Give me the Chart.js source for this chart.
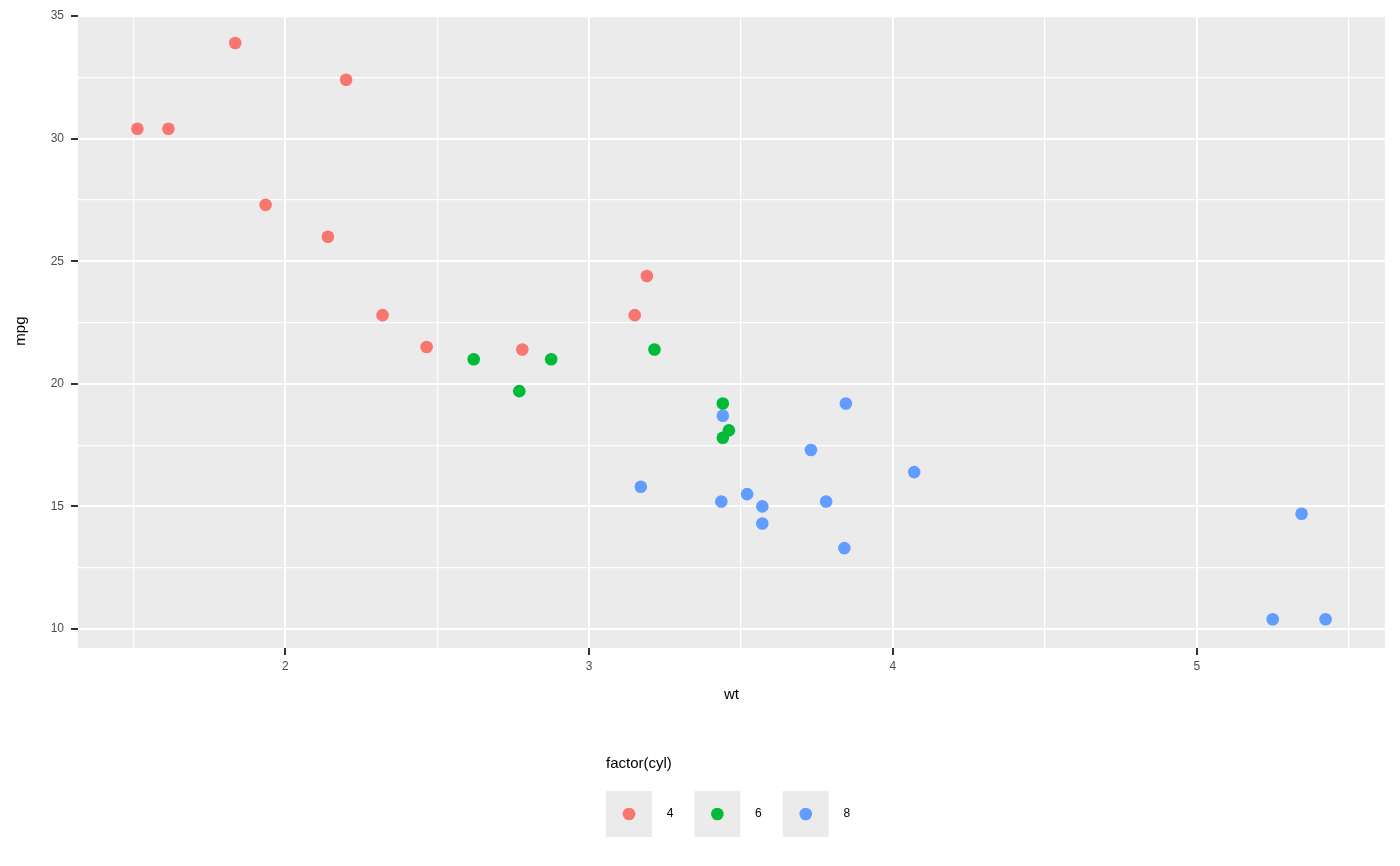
<!DOCTYPE html>
<html>
<head>
<meta charset="utf-8">
<script src="https://cdn.jsdelivr.net/npm/chart.js@4.4.1/dist/chart.umd.min.js"></script>
<style>
  html, body { margin: 0; padding: 0; background: #ffffff; }
  #wrap { width: 1400px; height: 866px; position: relative; }
</style>
</head>
<body>
<div id="wrap"><canvas id="c" width="1400" height="866"></canvas></div>
<script>
// ---- Data (mtcars: wt vs mpg by cylinder count) ----
const cylLevels = ['4', '6', '8'];
const wt4  = [2.320, 3.190, 3.150, 2.200, 1.615, 1.835, 2.465, 1.935, 2.140, 1.513, 2.780];
const mpg4 = [22.8, 24.4, 22.8, 32.4, 30.4, 33.9, 21.5, 27.3, 26.0, 30.4, 21.4];
const wt6  = [2.620, 2.875, 3.215, 3.460, 3.440, 3.440, 2.770];
const mpg6 = [21.0, 21.0, 21.4, 18.1, 19.2, 17.8, 19.7];
const wt8  = [3.440, 3.570, 4.070, 3.730, 3.780, 5.250, 5.424, 5.345, 3.520, 3.435, 3.840, 3.845, 3.170, 3.570];
const mpg8 = [18.7, 14.3, 16.4, 17.3, 15.2, 10.4, 10.4, 14.7, 15.5, 15.2, 13.3, 19.2, 15.8, 15.0];
const xTickValues = [1.5, 2, 2.5, 3, 3.5, 4, 4.5, 5, 5.5];
const yTickValues = [10, 12.5, 15, 17.5, 20, 22.5, 25, 27.5, 30, 32.5, 35];
const xLabel = 'wt';
const yLabel = 'mpg';
const legendTitle = 'factor(cyl)';

const colors = ['#F8766D', '#00BA38', '#619CFF'];
const FONT = "'Liberation Sans', Arial, Helvetica, sans-serif";
const PT_R = 6.3;

function pts(xs, ys) { return xs.map((x, i) => ({ x: x, y: ys[i] })); }
const seriesX = [wt4, wt6, wt8];
const seriesY = [mpg4, mpg6, mpg8];

const datasets = cylLevels.map((lv, i) => ({
  label: lv,
  data: pts(seriesX[i], seriesY[i]),
  backgroundColor: colors[i],
  borderWidth: 0,
  pointRadius: PT_R,
  pointHoverRadius: PT_R
}));

const panelBg = {
  id: 'panelBg',
  beforeDraw(chart) {
    const { ctx, chartArea: a } = chart;
    const top = Math.max(a.top, 17.3);
    ctx.save();
    ctx.fillStyle = '#EBEBEB';
    ctx.fillRect(a.left, top, a.right - a.left, a.bottom - top);
    ctx.restore();
  }
};

const ggLegend = {
  id: 'ggLegend',
  afterDraw(chart) {
    const ctx = chart.ctx;
    ctx.save();
    ctx.font = '15px ' + FONT;
    ctx.fillStyle = '#000000';
    ctx.textBaseline = 'middle';
    ctx.textAlign = 'left';
    ctx.fillText(legendTitle, 606, 764);
    ctx.font = '12px ' + FONT;
    let x = 606;
    const y = 791, s = 46;
    chart.data.datasets.forEach((ds) => {
      ctx.fillStyle = '#EBEBEB';
      ctx.fillRect(x, y, s, s);
      ctx.beginPath();
      ctx.arc(x + s / 2, y + s / 2, PT_R, 0, Math.PI * 2);
      ctx.fillStyle = ds.backgroundColor;
      ctx.fill();
      const lx = x + s + 14.7;
      ctx.fillStyle = '#000000';
      ctx.fillText(ds.label, lx, y + s / 2);
      x = lx + ctx.measureText(ds.label).width + 21;
    });
    ctx.restore();
  }
};

new Chart(document.getElementById('c'), {
  type: 'scatter',
  data: { datasets: datasets },
  plugins: [panelBg, ggLegend],
  options: {
    responsive: false,
    animation: false,
    devicePixelRatio: 1,
    layout: { padding: { left: 0, top: 14.16, right: 15, bottom: 158 } },
    plugins: { legend: { display: false }, tooltip: { enabled: false } },
    scales: {
      x: {
        type: 'linear',
        min: 1.3175,
        max: 5.6196,
        afterBuildTicks(scale) { scale.ticks = xTickValues.map(v => ({ value: v })); },
        afterFit(scale) { scale.height = 60; },
        border: { display: false },
        grid: {
          color: '#FFFFFF',
          lineWidth: (c) => (Number.isInteger(c.tick.value) ? 2 : 1.2),
          drawTicks: true,
          tickLength: 7,
          tickColor: (c) => (Number.isInteger(c.tick.value) ? '#333333' : 'rgba(0,0,0,0)'),
          tickWidth: 2
        },
        ticks: {
          autoSkip: false,
          maxRotation: 0,
          padding: 4,
          color: '#4D4D4D',
          font: { family: FONT, size: 12 },
          callback: (v) => (Number.isInteger(v) ? String(v) : '')
        },
        title: {
          display: true,
          text: xLabel,
          color: '#000000',
          font: { family: FONT, size: 15 },
          padding: { top: 0, bottom: 4 }
        }
      },
      y: {
        type: 'linear',
        min: 9.225,
        max: 35.075,
        afterBuildTicks(scale) { scale.ticks = yTickValues.map(v => ({ value: v })); },
        afterFit(scale) { scale.width = 78; },
        border: { display: false },
        grid: {
          color: '#FFFFFF',
          lineWidth: (c) => (c.tick.value % 5 === 0 ? 2 : 1.2),
          drawTicks: true,
          tickLength: 7,
          tickColor: (c) => (c.tick.value % 5 === 0 ? '#333333' : 'rgba(0,0,0,0)'),
          tickWidth: 2
        },
        ticks: {
          autoSkip: false,
          padding: 7,
          color: '#4D4D4D',
          font: { family: FONT, size: 12 },
          callback: (v) => (v % 5 === 0 ? String(v) : '')
        },
        title: {
          display: true,
          text: yLabel,
          color: '#000000',
          font: { family: FONT, size: 15 },
          padding: { top: 11.5, bottom: 0 }
        }
      }
    }
  }
});
</script>
</body>
</html>
